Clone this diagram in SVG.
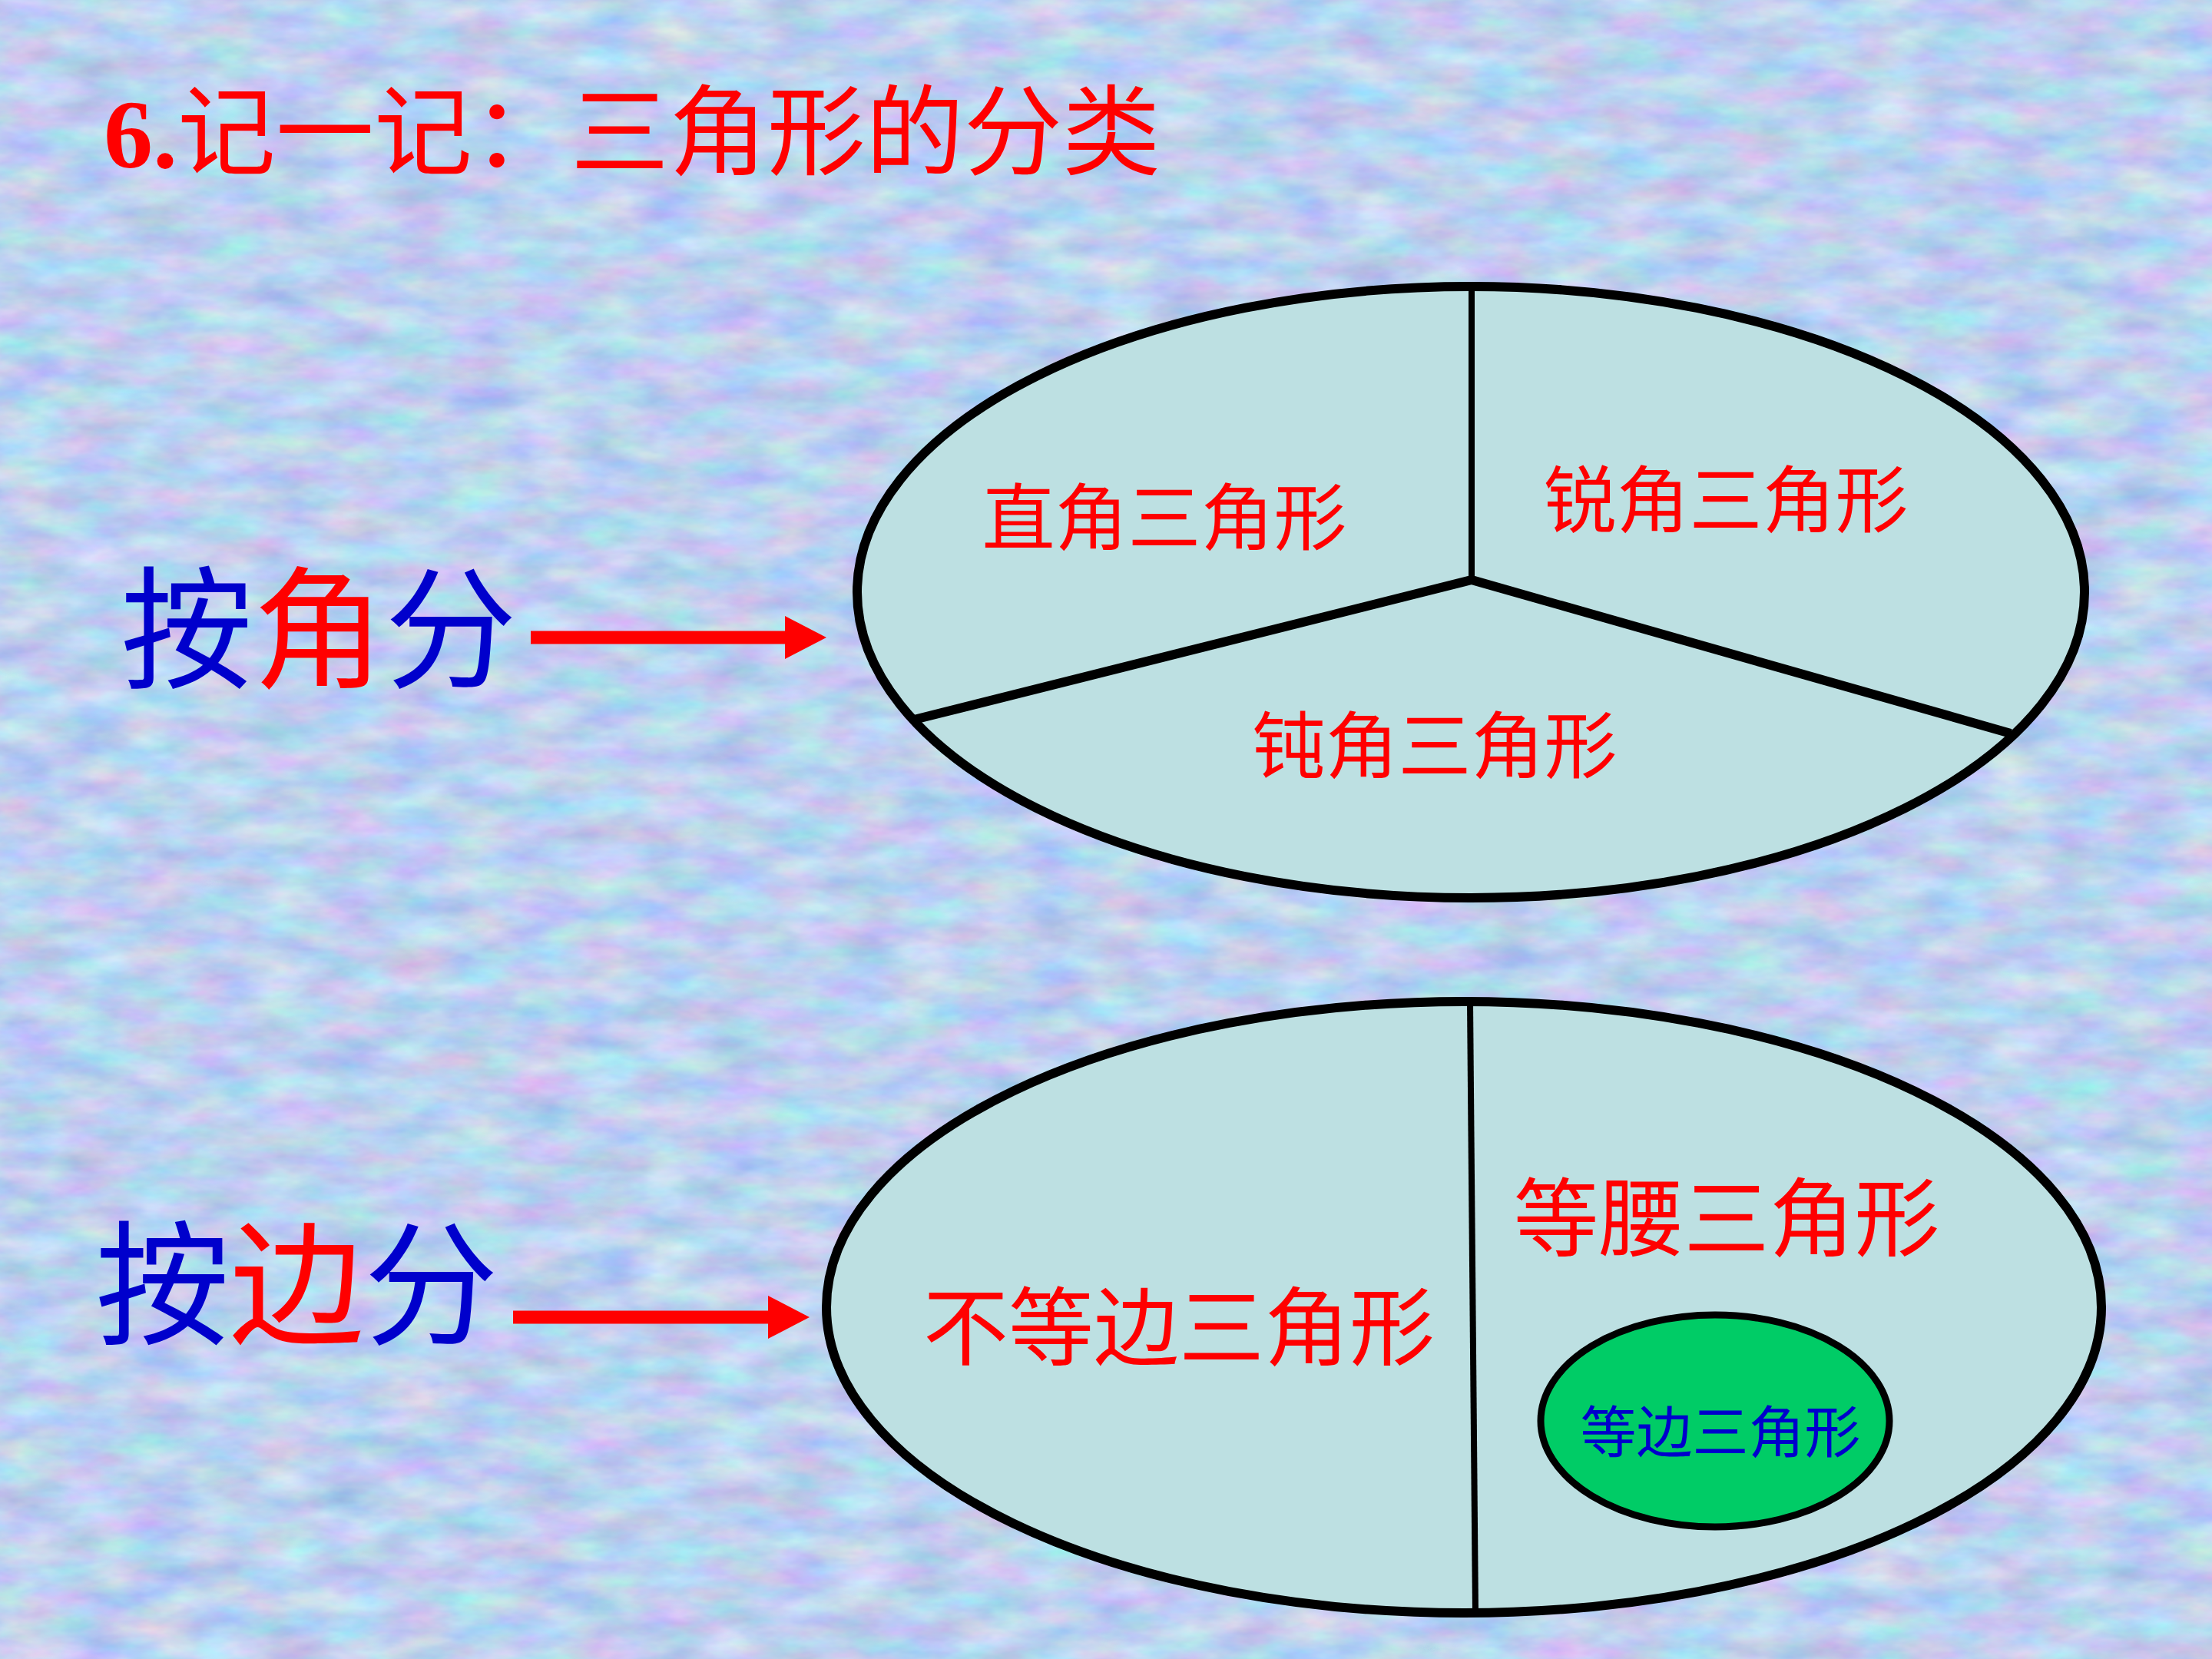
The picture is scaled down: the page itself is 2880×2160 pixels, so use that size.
<svg xmlns="http://www.w3.org/2000/svg" width="2880" height="2160" viewBox="0 0 2880 2160">
  <defs>
    <filter id="tex" x="0" y="0" width="100%" height="100%" color-interpolation-filters="sRGB">
      <feTurbulence type="fractalNoise" baseFrequency="0.012 0.03" numOctaves="4" seed="7"/>
      <feColorMatrix type="matrix" values="0.36 0 0 0 0.56  0 0.3 0 0 0.67  0 0 0.16 0 0.86  0 0 0 0 1"/>
    </filter>
    <marker id="head" markerUnits="userSpaceOnUse" markerWidth="54" markerHeight="56" refX="0" refY="28" orient="auto">
      <path d="M0,0 L54,28 L0,56 Z" fill="#FF0000"/>
    </marker>
    <style>
      .cjk { font-family: "Noto Sans CJK SC", sans-serif; }
      .red { fill: #FF0000; }
      .blue { fill: #0000CC; }
      .oval { fill: #BDE0E2; stroke: #000; stroke-width: 12; }
      .div { stroke: #000; fill: none; }
      .arrow { stroke: #FF0000; stroke-width: 17; fill: none; marker-end: url(#head); }
    </style>
  </defs>

  <rect x="0" y="0" width="2880" height="2160" fill="#BCD0EE"/>
  <rect x="0" y="0" width="2880" height="2160" filter="url(#tex)"/>

  <g id="title">
    <text x="135" y="218" font-size="128" class="red"><tspan font-family="Liberation Serif, serif" font-weight="bold">6.</tspan><tspan class="cjk">记一记：三角形的分类</tspan></text>
  </g>

  <g id="label-angle">
    <text x="157" y="882" font-size="172" class="cjk"><tspan class="blue">按</tspan><tspan class="red">角</tspan><tspan class="blue">分</tspan></text>
  </g>

  <g id="label-side">
    <text x="124" y="1737" font-size="175" class="cjk"><tspan class="blue">按</tspan><tspan class="red">边</tspan><tspan class="blue">分</tspan></text>
  </g>

  <g id="angle-oval">
    <ellipse cx="1915" cy="771" rx="799" ry="398" class="oval"/>
    <line x1="1916" y1="376" x2="1916" y2="757" class="div" stroke-width="8"/>
    <polyline points="1190,937 1916,755 2618,955" class="div" stroke-width="12"/>
    <text x="1516" y="709" font-size="95" text-anchor="middle" class="cjk red">直角三角形</text>
    <text x="2247" y="686" font-size="95" text-anchor="middle" class="cjk red">锐角三角形</text>
    <text x="1868" y="1006" font-size="95" text-anchor="middle" class="cjk red">钝角三角形</text>
  </g>

  <g id="side-oval">
    <ellipse cx="1906" cy="1702" rx="830" ry="398" class="oval"/>
    <line x1="1914" y1="1305" x2="1921" y2="2099" class="div" stroke-width="8"/>
    <text x="1535" y="1769" font-size="111" text-anchor="middle" class="cjk red">不等边三角形</text>
    <text x="2248" y="1627" font-size="111" text-anchor="middle" class="cjk red">等腰三角形</text>
  </g>

  <g id="equilateral">
    <ellipse cx="2233" cy="1850" rx="227" ry="138" fill="#00CC66" stroke="#000" stroke-width="9"/>
    <text x="2240" y="1891" font-size="73" text-anchor="middle" class="cjk blue">等边三角形</text>
  </g>

  <g id="connectors">
    <line x1="691" y1="830" x2="1022" y2="830" class="arrow"/>
    <line x1="668" y1="1715" x2="1000" y2="1715" class="arrow"/>
  </g>
</svg>
